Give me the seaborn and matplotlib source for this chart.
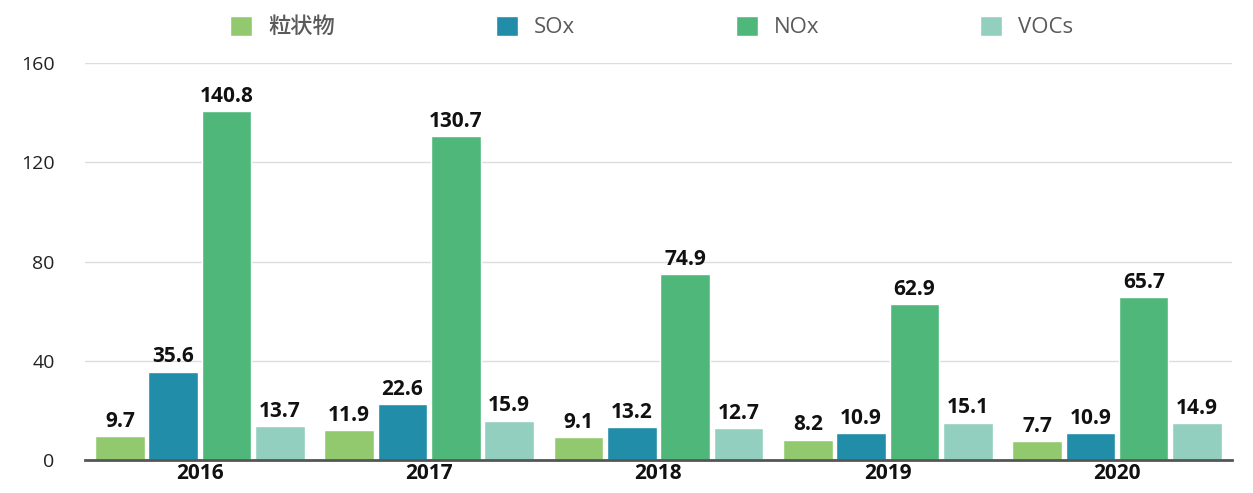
import matplotlib
matplotlib.use("Agg")
import matplotlib.pyplot as plt
import pandas as pd
import seaborn as sns

# data
years = ["2016", "2017", "2018", "2019", "2020"]
pollutants = ["粒状物", "SOx", "NOx", "VOCs"]
pm = [9.7, 11.9, 9.1, 8.2, 7.7]
sox = [35.6, 22.6, 13.2, 10.9, 10.9]
nox = [140.8, 130.7, 74.9, 62.9, 65.7]
vocs = [13.7, 15.9, 12.7, 15.1, 14.9]
colors = ["#92C96E", "#218DA8", "#50B77A", "#92CFBF"]

rows = []
for name, vals in zip(pollutants, [pm, sox, nox, vocs]):
    for y, v in zip(years, vals):
        rows.append({"year": y, "pollutant": name, "value": v})
df = pd.DataFrame(rows)

sns.set_style("white")
plt.rcParams["font.family"] = ["Open Sans", "Noto Sans CJK JP", "DejaVu Sans"]

fig = plt.figure(figsize=(12.53, 4.93), dpi=100)
ax = fig.add_axes([0.068, 0.067, 0.915, 0.805])

sns.barplot(data=df, x="year", y="value", hue="pollutant", order=years,
            hue_order=pollutants, palette=colors, width=0.93, gap=0.07,
            saturation=1, ax=ax)

for c in ax.containers:
    ax.bar_label(c, fmt="%.1f", padding=3, fontsize=15, fontweight="bold",
                 color="#111111")

ax.set_ylim(0, 160)
ax.set_xlim(-0.5, 4.5)
ax.set_yticks([0, 40, 80, 120, 160])
ax.yaxis.grid(True, color="#dddddd", linewidth=1)
ax.set_axisbelow(True)
ax.set_xlabel("")
ax.set_ylabel("")
for s in ["left", "right", "top"]:
    ax.spines[s].set_visible(False)
ax.spines["bottom"].set_color("#555555")
ax.spines["bottom"].set_linewidth(2)
ax.tick_params(axis="y", length=0, labelsize=14, colors="#222222", pad=22)
ax.tick_params(axis="x", length=0, labelsize=15, colors="#111111", pad=2)
for t in ax.get_xticklabels():
    t.set_fontweight("bold")

ax.legend(loc="upper center", bbox_to_anchor=(0.494, 1.17), ncol=4, frameon=False,
          prop={"size": 16, "weight": "medium"}, labelcolor="#5a5a5a",
          handlelength=1.0, handleheight=1.0, handletextpad=0.7,
          columnspacing=7.25)

fig.savefig("out.png", dpi=100)
